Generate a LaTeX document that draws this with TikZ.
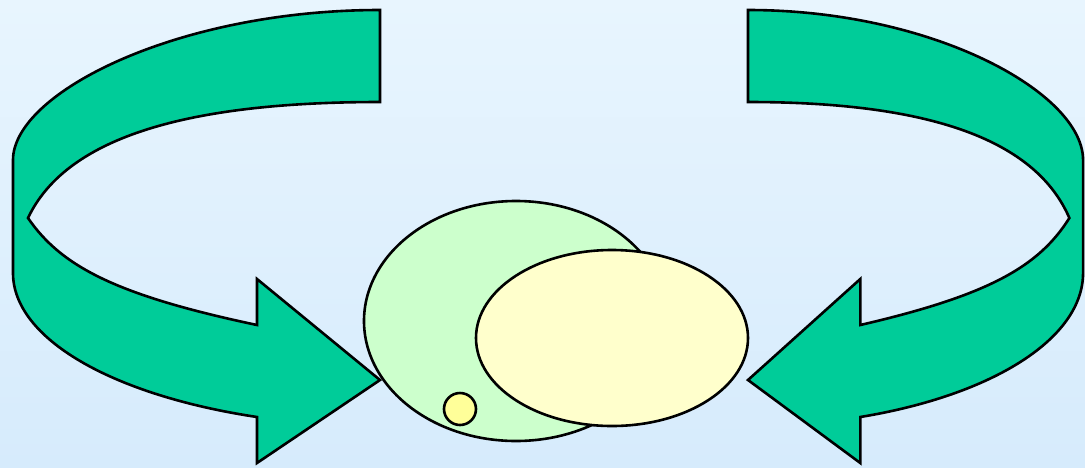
\documentclass[tikz,border=0pt]{standalone}
\usetikzlibrary{shapes.geometric}
\definecolor{bgtop}{HTML}{E8F5FE}
\definecolor{bgbot}{HTML}{D6EBFC}
\definecolor{arrowgreen}{HTML}{00CC99}
\definecolor{palegreen}{HTML}{CCFFCC}
\definecolor{paleyellow}{HTML}{FFFFCC}
\definecolor{dotyellow}{HTML}{FFFF99}
\tikzset{
  bigarrow/.style={fill=arrowgreen, draw=black, line width=2.6pt, line join=miter},
  blob/.style={ellipse, draw=black, line width=2.6pt, inner sep=0pt},
  curvedarrow/.pic={
    \path[bigarrow] (0,-370)
      .. controls (-203,-370) and (-367,-287) .. (-367,-220)
      -- (-367,-107)
      .. controls (-367,-42) and (-269,15) .. (-123,37)
      -- (-123,83) -- (0,0) -- (-123,-101) -- (-123,-55)
      .. controls (-265,-85) and (-319,-114) .. (-352,-162)
      .. controls (-315,-240) and (-200,-278) .. (0,-278)
      -- cycle;
  }
}
\begin{document}
\begin{tikzpicture}[x=1pt,y=-1pt]
\shade[top color=bgtop,bottom color=bgbot] (0,0) rectangle (1085,467);
\useasboundingbox (0,0) rectangle (1085,467);
\pic (leftarrow) at (380,380) {curvedarrow};
\pic[xscale=-0.913] (rightarrow) at (748,380) {curvedarrow};
\node[blob, fill=palegreen, minimum width=304pt, minimum height=240pt] (outer) at (516,321) {};
\node[blob, fill=paleyellow, minimum width=272pt, minimum height=176pt] (inner) at (612,338) {};
\node[blob, circle, fill=dotyellow, minimum size=32pt] (dot) at (460,409) {};
\end{tikzpicture}
\end{document}
